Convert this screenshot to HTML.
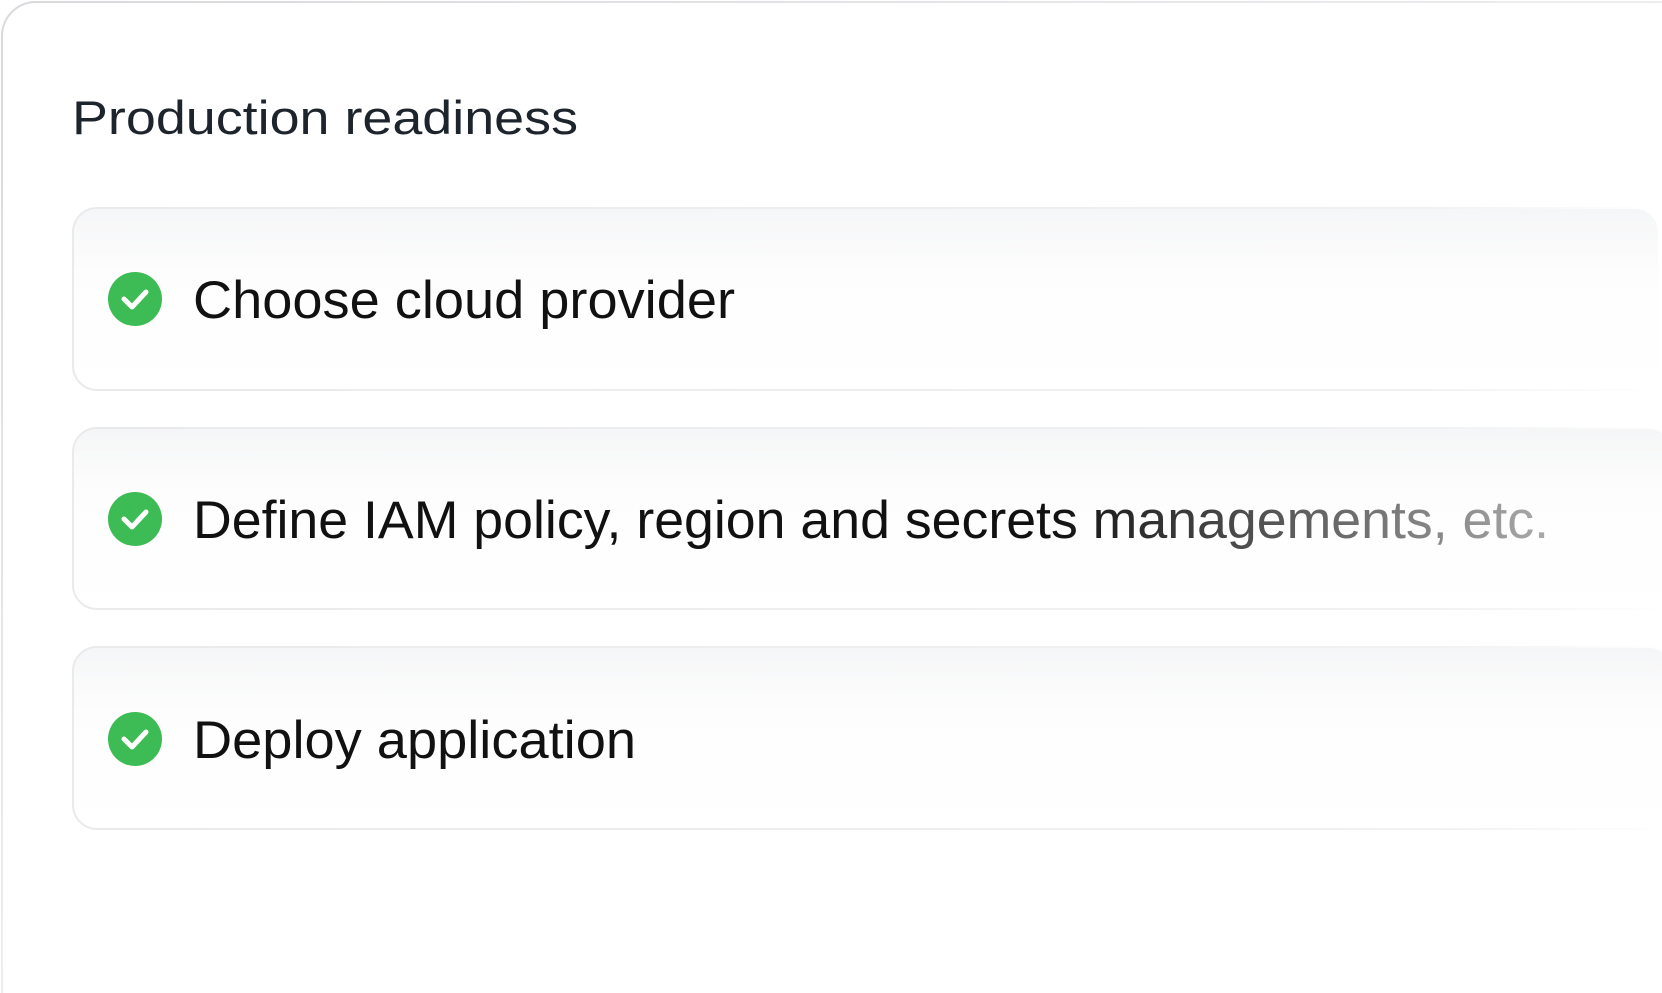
<!DOCTYPE html>
<html><head><meta charset="utf-8"><style>
html,body{margin:0;padding:0;background:#fff;}
</style></head><body>
<svg width="1662" height="993" viewBox="0 0 1662 993" xmlns="http://www.w3.org/2000/svg" style="display:block">
<defs>
<linearGradient id="bord" x1="0" y1="0" x2="1" y2="1">
<stop offset="0" stop-color="#d8d9dc"/><stop offset="0.5" stop-color="#eceef0"/><stop offset="1" stop-color="#ffffff"/>
</linearGradient>
<linearGradient id="cardfill" x1="0" y1="0" x2="0" y2="1">
<stop offset="0" stop-color="#f5f6f7"/><stop offset="0.35" stop-color="#fdfdfd"/><stop offset="1" stop-color="#ffffff"/>
</linearGradient>
<linearGradient id="txt" gradientUnits="userSpaceOnUse" x1="1050" y1="0" x2="1550" y2="0">
<stop offset="0" stop-color="#111"/><stop offset="1" stop-color="#aaa"/>
</linearGradient>
<linearGradient id="cborder" x1="0" y1="0" x2="1" y2="0">
<stop offset="0" stop-color="#e9eaec"/><stop offset="0.85" stop-color="#f0f1f2"/><stop offset="1" stop-color="#fff"/>
</linearGradient>
</defs>
<rect x="2" y="2" width="1700" height="1040" rx="34" fill="#fff" stroke="url(#bord)" stroke-width="2"/>
<text x="72" y="134" font-family="Liberation Sans, sans-serif" font-size="47" fill="#1d242c" textLength="506" lengthAdjust="spacingAndGlyphs">Production readiness</text>

<g>
<rect x="73" y="208" width="1586" height="182" rx="24" fill="url(#cardfill)" stroke="url(#cborder)" stroke-width="2"/>
<rect x="73" y="428" width="1600" height="181" rx="24" fill="url(#cardfill)" stroke="url(#cborder)" stroke-width="2"/>
<rect x="73" y="647" width="1600" height="182" rx="24" fill="url(#cardfill)" stroke="url(#cborder)" stroke-width="2"/>
</g>

<g fill="#3dbb55">
<circle cx="135" cy="299" r="27"/><circle cx="135" cy="519" r="27"/><circle cx="135" cy="739" r="27"/>
</g>
<g stroke="#fff" stroke-width="5" fill="none" stroke-linecap="round" stroke-linejoin="round">
<path d="M124 299 l8 8 l14 -15"/><path d="M124 519 l8 8 l14 -15"/><path d="M124 739 l8 8 l14 -15"/>
</g>

<g font-family="Liberation Sans, sans-serif" font-size="53" fill="#111">
<text x="193" y="318" textLength="542" lengthAdjust="spacingAndGlyphs">Choose cloud provider</text>
<text x="193" y="538" textLength="1356" lengthAdjust="spacingAndGlyphs" fill="url(#txt)">Define IAM policy, region and secrets managements, etc.</text>
<text x="193" y="758" textLength="443" lengthAdjust="spacingAndGlyphs">Deploy application</text>
</g>
</svg>
</body></html>
